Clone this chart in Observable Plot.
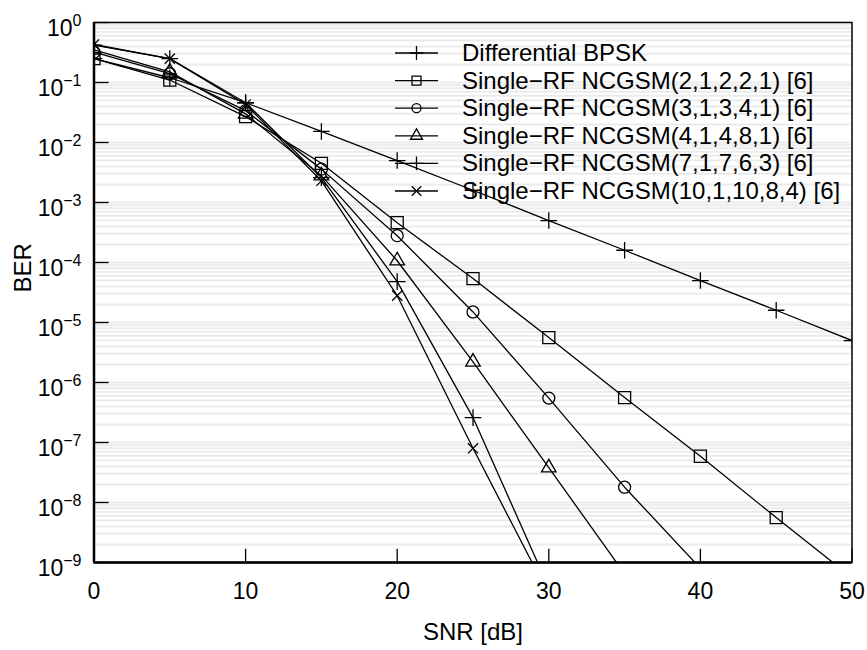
<!DOCTYPE html>
<html><head><meta charset="utf-8">
<script src="https://cdn.jsdelivr.net/npm/d3@7"></script>
<script src="https://cdn.jsdelivr.net/npm/@observablehq/plot@0.6"></script>
<style>
body{margin:0;background:#fff;}
#wrap{position:relative;width:867px;height:650px;font-family:"Liberation Sans",Arial,Helvetica,sans-serif;}
#legend{position:absolute;left:0;top:0;pointer-events:none;}
</style></head><body><div id="wrap"></div>
<script>
// SNR grid (dB)
const snr = [0, 5, 10, 15, 20, 25, 30, 35, 40, 45, 50];

// Series names (legend order)
const seriesNames = [
  "Differential BPSK",
  "Single\u2212RF NCGSM(2,1,2,2,1) [6]",
  "Single\u2212RF NCGSM(3,1,3,4,1) [6]",
  "Single\u2212RF NCGSM(4,1,4,8,1) [6]",
  "Single\u2212RF NCGSM(7,1,7,6,3) [6]",
  "Single\u2212RF NCGSM(10,1,10,8,4) [6]"
];

// BER values (points below 1e-9 continue the line to the axis)
const berDBPSK   = [0.25, 0.12, 0.046, 0.0153, 0.005, 1.6e-3, 5.0e-4, 1.6e-4, 5.0e-5, 1.6e-5, 5.0e-6];
const berNC21221 = [0.25, 0.11, 0.027, 0.0045, 4.6e-4, 5.4e-5, 5.6e-6, 5.6e-7, 5.9e-8, 5.6e-9, 5.6e-10];
const berNC31341 = [0.32, 0.14, 0.034, 0.0036, 2.8e-4, 1.5e-5, 5.5e-7, 1.8e-8, 8.0e-10];
const berNC41481 = [0.35, 0.15, 0.030, 0.0028, 1.07e-4, 2.2e-6, 3.8e-8, 6.5e-10];
const berNC71763 = [0.42, 0.25, 0.046, 0.0026, 4.8e-5, 2.6e-7, 3.8e-10];
const berNC101084 = [0.43, 0.25, 0.043, 0.0023, 2.8e-5, 8.0e-8, 2.9e-10];

const seriesValues = [berDBPSK, berNC21221, berNC31341, berNC41481, berNC71763, berNC101084];

// Tick values and axis labels
const xTicks = [0, 10, 20, 30, 40, 50];
const yExponents = [-9, -8, -7, -6, -5, -4, -3, -2, -1, 0];
const xLabel = "SNR [dB]";
const yLabel = "BER";

// marker styles per series
const symbols = ["plus", "square", "circle", "triangle", "plus", "times"];
const symbolR = [5.4, 6.8, 6, 5.4, 5.4, 4.7];

const yTicks = yExponents.map(e => Math.pow(10, e));
const gridValues = [];
for (const e of yExponents) for (let m = 1; m <= 9; m++) { const v = m * Math.pow(10, e); if (v <= 1.0000001) gridValues.push(v); }

const rows = [];
seriesValues.forEach((vals, i) => vals.forEach((v, j) => rows.push({series: seriesNames[i], snr: snr[j], ber: v})));

const marks = [
  Plot.ruleY(gridValues, {stroke: "#ebebeb", strokeWidth: 2}),
];
seriesNames.forEach((name, i) => {
  const data = rows.filter(r => r.series === name);
  marks.push(Plot.line(data, {x: "snr", y: "ber", stroke: "black", strokeWidth: 1.3, clip: true}));
  marks.push(Plot.dot(data, {x: "snr", y: "ber", symbol: () => symbols[i], r: symbolR[i], fill: "none", stroke: "black", strokeWidth: 1.3, clip: true}));
});
marks.push(
  Plot.ruleY(yTicks, {x1: 0, x2: 1, stroke: "black", strokeWidth: 1.3}),
  Plot.ruleX(xTicks, {y1: 1e-9, y2: Math.pow(10, -9 + 0.22), stroke: "black", strokeWidth: 1.3}),
  Plot.frame({stroke: "black", strokeWidth: 1.5}),
  Plot.ruleX([0], {stroke: "black", strokeWidth: 2.5}),
  Plot.ruleY([1e-9], {stroke: "black", strokeWidth: 2.5}),
  Plot.axisX(xTicks, {tickSize: 0, tickPadding: 20, fontSize: 23, label: null}),
  Plot.axisY(yTicks, {tickSize: 0, tickPadding: 12.5, fontSize: 23, tickFormat: d => String(Math.round(Math.log10(d))), label: null}),
  Plot.text([xLabel], {frameAnchor: "bottom", dy: 77, fontSize: 24, text: d => d}),
  Plot.text([yLabel], {frameAnchor: "left", dx: -71, rotate: -90, fontSize: 24, text: d => d})
);

const chart = Plot.plot({
  width: 867, height: 650,
  marginLeft: 93.5, marginRight: 15.5, marginTop: 22, marginBottom: 88,
  style: {fontFamily: '"Liberation Sans", Arial, Helvetica, sans-serif', color: "black", background: "white"},
  x: {domain: [0, 50]},
  y: {type: "log", domain: [1e-9, 1]},
  symbol: {type: "identity"},
  marks
});
document.getElementById("wrap").appendChild(chart);

// superscript tick labels 10^n
const ns = "http://www.w3.org/2000/svg";
chart.querySelectorAll('g[aria-label="y-axis tick label"] text').forEach(t => {
  const e = t.textContent.trim();
  t.textContent = "";
  t.setAttribute("y", "13");
  t.removeAttribute("dy");
  const a = document.createElementNS(ns, "tspan"); a.textContent = "10";
  const b = document.createElementNS(ns, "tspan");
  b.setAttribute("dy", "-10"); b.setAttribute("font-size", "16");
  b.textContent = e.replace("-", "\u2212");
  t.appendChild(a); t.appendChild(b);
});

// legend overlay
const leg = d3.select("#wrap").append("svg").attr("id", "legend").attr("width", 867).attr("height", 650);
const legSym = {plus: [d3.symbolPlus, 64], square: [d3.symbolSquare, 80], circle: [d3.symbolCircle, 64], triangle: [d3.symbolTriangle, 62], times: [d3.symbolTimes, 60]};
seriesNames.forEach((name, i) => {
  const y = 53 + i * 27.6;
  const g = leg.append("g");
  g.append("line").attr("x1", 395).attr("x2", 438).attr("y1", y).attr("y2", y).attr("stroke", "black").attr("stroke-width", 1.3);
  const [sym, size] = legSym[symbols[i]];
  g.append("path").attr("d", d3.symbol(sym, size)()).attr("transform", `translate(416.5,${y})`)
    .attr("fill", "none").attr("stroke", "black").attr("stroke-width", 1.3);
  g.append("text").attr("x", 462).attr("y", y + 8).attr("font-size", 24)
    .attr("font-family", '"Liberation Sans", Arial, Helvetica, sans-serif').text(name);
});
</script>
</body></html>
